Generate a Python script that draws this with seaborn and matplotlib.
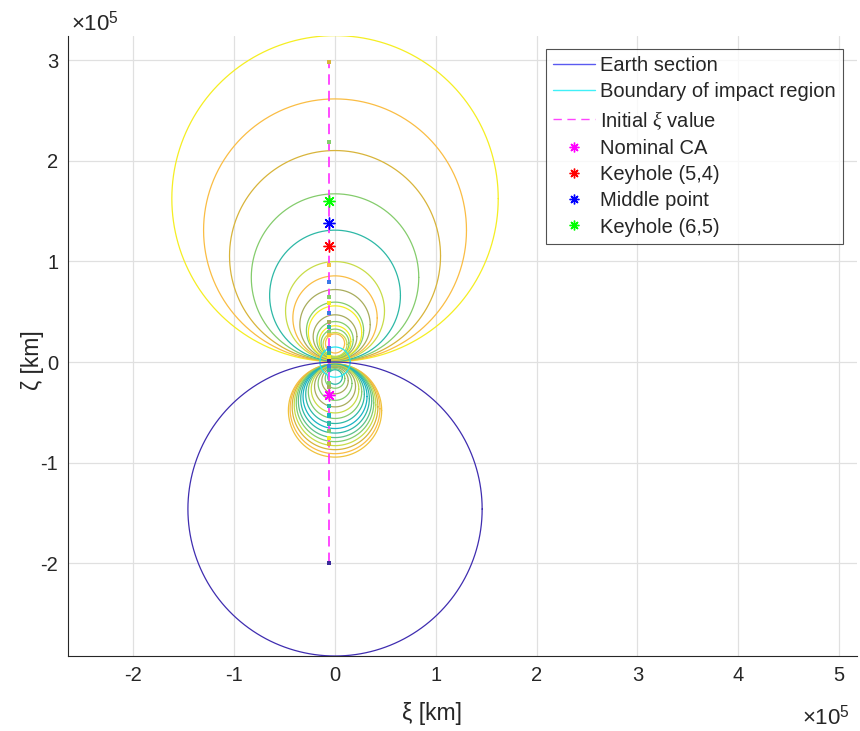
import numpy as np
import pandas as pd
import matplotlib
matplotlib.use("Agg")
import matplotlib.pyplot as plt
from matplotlib.lines import Line2D
import seaborn as sns

# ---------------- data (units of 1e5 km) ----------------
Y, O, G, GR, T, YG, OL, C, B, N = ("#f5ee22", "#fabd44", "#d8b43a", "#84cc6c", "#2db8a6",
                                   "#c8dc48", "#a8ac5c", "#18b4c4", "#3a78e8", "#3a2a9a")

# upper family of circles: top and bottom zeta
up_top = [3.244, 2.615, 2.102, 1.672, 1.311, 0.999, 0.857, 0.721, 0.596, 0.559,
          0.470, 0.403, 0.361, 0.328, 0.294, 0.280]
up_bot = [0.005, 0.006, 0.008, 0.010, 0.013, 0.017, 0.020, 0.023, 0.028, 0.030,
          0.036, 0.042, 0.047, 0.051, 0.057, 0.090]
up_col = [Y, O, G, GR, T, YG, O, OL, GR, Y, OL, GR, Y, GR, YG, O]

# lower family of circles
lo_top = [-0.018, -0.018, -0.019, -0.020, -0.021, -0.022, -0.024, -0.025, -0.028, -0.030,
          -0.033, -0.038, -0.044, -0.053, -0.065, -0.076]
lo_bot = [-0.944, -0.910, -0.870, -0.830, -0.790, -0.750, -0.705, -0.660, -0.610, -0.560,
          -0.505, -0.445, -0.380, -0.315, -0.260, -0.220]
lo_col = ["#f0c23c", O, G, YG, GR, "#5cc08a", T, C, T, GR, YG, OL, GR, OL, GR, T]

earth_center, earth_radius = -1.46, 1.46
impact_radius = 0.15

xi0 = -0.06
line_zeta = [-2.0, 2.98]

dot_zeta = [2.98, 2.19, 1.605, 1.155, 0.967, 0.795, 0.645, 0.59, 0.49, 0.395, 0.35, 0.30,
            0.27, 0.135, 0.09, 0.05, 0.01, -0.04, -0.08, -0.21, -0.25, -0.44, -0.53, -0.61,
            -0.685, -0.75, -0.81, -2.0]
dot_col = [G, GR, GR, T, O, B, GR, Y, B, OL, T, GR, O, B, T, Y, N, B, T, GR, OL, T, C, T,
           GR, Y, G, N]

star_names = ["Nominal CA", "Keyhole (5,4)", "Middle point", "Keyhole (6,5)"]
star_zeta = [-0.33, 1.155, 1.38, 1.605]
star_col = ["#ff00ff", "#ff0000", "#0000ff", "#00ff00"]

xticks = [-2, -1, 0, 1, 2, 3, 4, 5]
yticks = [-2, -1, 0, 1, 2, 3]
S = 1e5

# ---------------- style ----------------
sns.set_style("white")
plt.rcParams["font.family"] = ["Liberation Sans", "DejaVu Sans"]
plt.rcParams["mathtext.fontset"] = "custom"
plt.rcParams["mathtext.rm"] = "Liberation Sans"
plt.rcParams["mathtext.it"] = "Liberation Serif:italic"

fig = plt.figure(figsize=(8.6, 7.31), dpi=100)
ax = fig.add_axes([68 / 860, (731 - 656) / 731, (857 - 68) / 860, (656 - 36) / 731])

th = np.linspace(0, 2 * np.pi, 721)

def circ(cz, r, color, lw=0.9, z=2):
    df = pd.DataFrame({"x": r * np.cos(th) * S, "y": (cz + r * np.sin(th)) * S})
    sns.lineplot(data=df, x="x", y="y", sort=False, estimator=None, color=color,
                 linewidth=lw, ax=ax, zorder=z)

for t, b, c in zip(up_top, up_bot, up_col):
    circ((t + b) / 2, (t - b) / 2, c)
for t, b, c in zip(lo_top, lo_bot, lo_col):
    circ((t + b) / 2, (t - b) / 2, c)
circ(0.0, impact_radius, "#22e8f0", z=3)
circ(earth_center, earth_radius, "#3f2db0", z=3)

ax.plot([xi0 * S, xi0 * S], [line_zeta[0] * S, line_zeta[1] * S], color="#ff33ff",
        linestyle=(0, (6, 3.5)), linewidth=1.25, zorder=4)

dots = pd.DataFrame({"x": [xi0 * S] * len(dot_zeta), "y": np.array(dot_zeta) * S})
ax.scatter(dots["x"], dots["y"], c=dot_col, marker="s", s=9, linewidths=0, zorder=5)

for z, c in zip(star_zeta, star_col):
    ax.plot([xi0 * S], [z * S], marker=(8, 2, 0), markersize=8.5, color=c,
            markeredgewidth=1.0, linestyle="none", zorder=6)

ax.set_xlim(-2.65 * S, 5.18 * S)
ax.set_ylim(-2.92 * S, 3.24 * S)
ax.set_xticks([v * S for v in xticks])
ax.set_xticklabels([str(v) for v in xticks])
ax.set_yticks([v * S for v in yticks])
ax.set_yticklabels([str(v) for v in yticks])
ax.grid(True, color="#e0e0e0", linewidth=0.9)
ax.set_axisbelow(True)
for s in ["top", "right"]:
    ax.spines[s].set_visible(False)
for s in ["left", "bottom"]:
    ax.spines[s].set_color("#262626")
    ax.spines[s].set_linewidth(0.8)
ax.tick_params(direction="in", length=6, width=0.8, colors="#262626", labelsize=14.5,
               labelcolor="#262626", pad=7, top=False, right=False)

ax.set_xlabel("ξ [km]", fontsize=16.5, color="#262626")
ax.set_ylabel("ζ [km]", fontsize=16.5, color="#262626")
ax.xaxis.set_label_coords(0.461, -0.074)
ax.yaxis.set_label_coords(-0.031, 0.477)

fig.text(71 / 860, 1 - 30 / 731, r"$\times10^{5}$", fontsize=16, color="#262626",
         ha="left", va="baseline")
fig.text(802 / 860, 1 - 724 / 731, r"$\times10^{5}$", fontsize=16, color="#262626",
         ha="left", va="baseline")

handles = [Line2D([], [], color="#5a5af0", lw=1.0),
           Line2D([], [], color="#40f0f8", lw=1.0),
           Line2D([], [], color="#ff44ff", lw=1.0, linestyle=(0, (6, 4)))]
for c in star_col:
    handles.append(Line2D([], [], color=c, marker=(8, 2, 0), markersize=7, linestyle="none"))
labels = ["Earth section", "Boundary of impact region", r"Initial $\xi$ value"] + star_names
leg = ax.legend(handles, labels, loc="upper right", bbox_to_anchor=(0.982, 0.979),
                borderaxespad=0, fontsize=14.5, frameon=True, fancybox=False,
                handlelength=2.1, handletextpad=0.25, labelspacing=0.36, borderpad=0.35)
leg.get_frame().set_edgecolor("#262626")
leg.get_frame().set_linewidth(0.8)
for t in leg.get_texts():
    t.set_color("#262626")

fig.savefig("out.png", dpi=100)
